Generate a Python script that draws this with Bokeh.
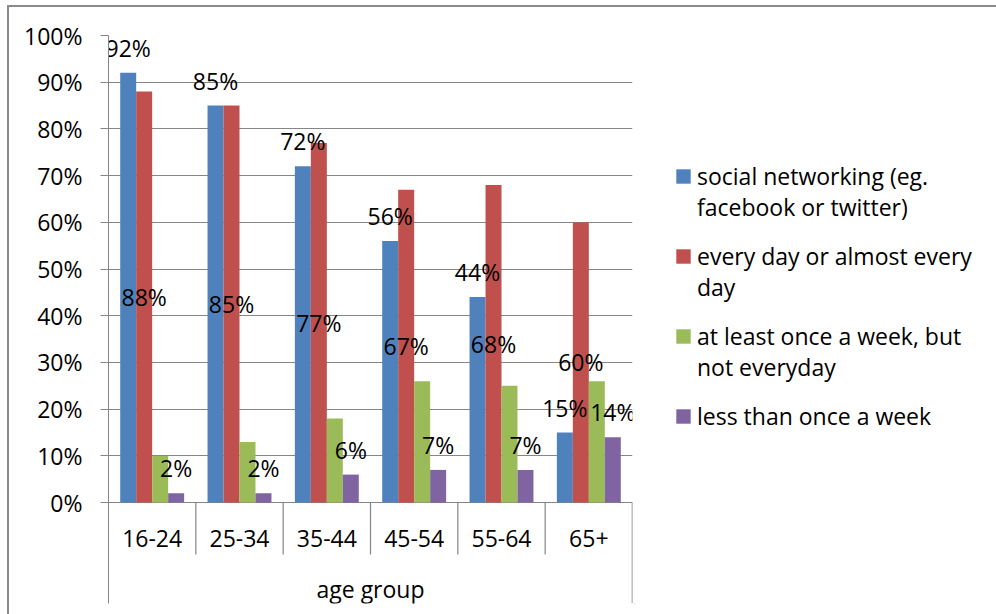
import pandas as pd
from bokeh.plotting import figure
from bokeh.layouts import row
from bokeh.models import (ColumnDataSource, FactorRange, Range1d, FixedTicker,
                          PrintfTickFormatter, Legend, LegendItem, Grid)
from bokeh.transform import dodge
from bokeh.core.properties import value
from bokeh.embed import file_html
from bokeh.resources import INLINE

# ---- data -----------------------------------------------------------------
age_groups = ["16-24", "25-34", "35-44", "45-54", "55-64", "65+"]
social_networking = [92, 85, 72, 56, 44, 15]
every_day = [88, 85, 77, 67, 68, 60]
once_a_week = [10, 13, 18, 26, 25, 26]
less_than_weekly = [2, 2, 6, 7, 7, 14]

# legend entries, split into their first and second lines
series_first_lines = [
    "social networking (eg.",
    "every day or almost every",
    "at least once a week, but",
    "less than once a week",
]
series_second_lines = ["facebook or twitter)", "day", "not everyday"]
series_colors = ["#4F81BD", "#C0504D", "#9BBB59", "#8064A2"]
y_ticks = [0, 10, 20, 30, 40, 50, 60, 70, 80, 90, 100]
axis_title = "age group"

FONT = "Open Sans"
FS = "23px"
GREY = "#868686"

df = pd.DataFrame({
    "age": age_groups,
    "sn": social_networking,
    "ed": every_day,
    "wk": once_a_week,
    "lt": less_than_weekly,
})
df["sn_lbl"] = [f"{v}%" for v in df["sn"]]
df["ed_lbl"] = [f"{v}%" for v in df["ed"]]
df["lt_lbl"] = [f"{v}%" for v in df["lt"]]
df["ed_mid"] = df["ed"] / 2.0
src = ColumnDataSource(df)

# ---- chart ------------------------------------------------------------------
# frame reaches below zero so the two-level category axis fits inside it
y_bottom = -21.6
p = figure(width=634, height=614,
           x_range=FactorRange(factors=age_groups, range_padding=0),
           y_range=Range1d(y_bottom, 100),
           x_axis_location=None,
           output_backend="svg", toolbar_location=None,
           min_border_left=108, min_border_right=2,
           min_border_top=35, min_border_bottom=11)
p.outline_line_color = None
p.background_fill_color = "white"
p.border_fill_color = "white"

yax = p.yaxis[0]
yax.ticker = FixedTicker(ticks=y_ticks)
yax.formatter = PrintfTickFormatter(format="%d%%")
yax.axis_line_color = GREY
yax.major_tick_line_color = GREY
yax.major_tick_in = 0
yax.major_tick_out = 8
yax.minor_tick_line_color = None
yax.major_label_standoff = 18
yax.major_label_text_font = FONT
yax.major_label_text_font_size = FS
yax.major_label_text_color = "black"

p.ygrid.ticker = FixedTicker(ticks=y_ticks)
p.ygrid.grid_line_color = GREY
p.ygrid.grid_line_width = 1.2
for g in p.xgrid:
    g.visible = False

# clustered bars
bw = 0.183
offs = [-1.5 * bw, -0.5 * bw, 0.5 * bw, 1.5 * bw]
cols = ["sn", "ed", "wk", "lt"]
for col, off, color in zip(cols, offs, series_colors):
    p.vbar(x=dodge("age", off, range=p.x_range), top=col, width=bw,
           bottom=0, source=src, fill_color=color, line_color=None)

# data labels
lbl_kw = dict(text_font=value(FONT), text_font_size=FS, text_color="black",
              text_align="center", text_baseline="middle", source=src)
p.text(x=dodge("age", offs[0], range=p.x_range), y="sn", text="sn_lbl",
       y_offset=-25, **lbl_kw)
p.text(x=dodge("age", offs[1], range=p.x_range), y="ed_mid", text="ed_lbl",
       **lbl_kw)
p.text(x=dodge("age", offs[3], range=p.x_range), y="lt", text="lt_lbl",
       y_offset=-25, **lbl_kw)

# category axis: separators, category labels and title
p.segment(x0=dodge("age", -0.5, range=p.x_range), y0=0,
          x1=dodge("age", -0.5, range=p.x_range), y1=-11.1,
          source=ColumnDataSource(dict(age=age_groups[1:])),
          line_color=GREY, line_width=1.2)
p.segment(x0=dodge("age", 0.5, range=p.x_range), y0=0,
          x1=dodge("age", 0.5, range=p.x_range), y1=y_bottom,
          source=ColumnDataSource(dict(age=age_groups[-1:])),
          line_color=GREY, line_width=1.6)
p.text(x="age", y=-7.6, text="age", source=ColumnDataSource(dict(age=age_groups)),
       text_font=value(FONT), text_font_size=FS, text_color="black",
       text_align="center", text_baseline="middle")
p.text(x=dodge("age", 0.5, range=p.x_range), y=-18.4, text="t",
       source=ColumnDataSource(dict(age=[age_groups[2]], t=[axis_title])),
       text_font=value(FONT), text_font_size=FS, text_color="black",
       text_align="center", text_baseline="middle")

# ---- legend panel -------------------------------------------------------------
lp = figure(width=362, height=614, x_range=Range1d(0, 1), y_range=Range1d(0, 1),
            x_axis_location=None, y_axis_location=None,
            output_backend="svg", toolbar_location=None, min_border=0)
lp.outline_line_color = None
lp.background_fill_color = "white"
lp.border_fill_color = "white"
lp.center = [r for r in lp.center if not isinstance(r, Grid)]

# swatch renderers sit outside the visible range; they only feed the legend
swatches = [lp.vbar(x=[-5], top=[-5], bottom=[-6], width=0.1,
                    fill_color=c, line_color=None)
            for c in series_colors]
blank = lp.vbar(x=[-5], top=[-5], bottom=[-6], width=0.1,
                fill_alpha=0, line_alpha=0)

leg_kw = dict(glyph_width=18, glyph_height=18, label_standoff=5,
              label_height=34, spacing=46, padding=0, margin=0,
              label_text_font=FONT, label_text_font_size=FS,
              label_text_color="black",
              border_line_color=None, background_fill_alpha=0)
legend_main = Legend(items=[LegendItem(label=t, renderers=[r])
                            for t, r in zip(series_first_lines, swatches)],
                     location=(40, 170), **leg_kw)
legend_cont = Legend(items=[LegendItem(label=t, renderers=[blank])
                            for t in series_second_lines],
                     location=(40, 219), **leg_kw)
lp.add_layout(legend_main)
lp.add_layout(legend_cont)

layout = row(p, lp, spacing=0)
# outer chart frame (left and top edges)
layout.stylesheets = [
    ":host { position: relative; overflow: hidden; }"
    " :host::after { content: ''; position: absolute; left: 7px; top: 5px;"
    " width: 1400px; height: 1400px; border-left: 2px solid #8a8a8a;"
    " border-top: 2px solid #8a8a8a; pointer-events: none; z-index: 10; }"
]

open("out.html", "w").write(file_html(layout, INLINE))
